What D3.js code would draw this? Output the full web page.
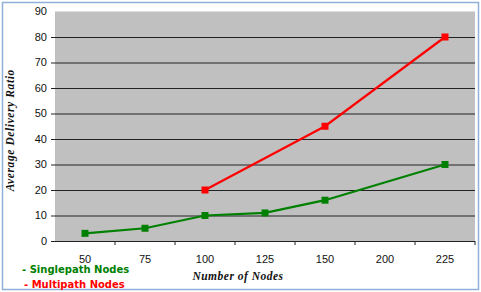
<!DOCTYPE html>
<html>
<head>
<meta charset="utf-8">
<script src="https://cdn.jsdelivr.net/npm/d3@7"></script>
<style>
  body { margin: 0; background: #fff; }
</style>
</head>
<body>
<div id="chart"></div>
<script>
const width = 481;
const height = 292;

// 数据
const nodes = ["50", "75", "100", "125", "150", "200", "225"];
const singlepath = [["50", 3], ["75", 5], ["100", 10], ["125", 11], ["150", 16], ["225", 30]];
const multipath = [["100", 20], ["150", 45], ["225", 80]];
const yTicks = [0, 10, 20, 30, 40, 50, 60, 70, 80, 90];

const margin = { left: 55, right: 6, top: 11.5, bottom: 51 };

const svg = d3.select("#chart")
  .append("svg")
  .attr("width", width)
  .attr("height", height);

// 外框
svg.append("rect")
  .attr("x", 2.5).attr("y", 2.5)
  .attr("width", width - 5).attr("height", height - 5)
  .attr("fill", "#fff")
  .attr("stroke", "#8fb0d8")
  .attr("stroke-width", 1.5);

const x = d3.scaleBand()
  .domain(nodes)
  .range([margin.left, width - margin.right]);

const y = d3.scaleLinear()
  .domain([0, 90])
  .range([height - margin.bottom, margin.top]);

// 绘图区
svg.append("rect")
  .attr("x", margin.left)
  .attr("y", y(90))
  .attr("width", width - margin.right - margin.left)
  .attr("height", y(0) - y(90))
  .attr("fill", "#c0c0c0");

// y 轴网格
svg.append("g")
  .attr("transform", `translate(${margin.left},0)`)
  .call(d3.axisLeft(y).tickValues(yTicks.slice(1, -1))
    .tickSize(-(width - margin.right - margin.left)).tickSizeOuter(0).tickFormat(""))
  .call(g => g.select(".domain").remove())
  .call(g => g.selectAll("line").attr("x1", -4).attr("stroke", "#222"));

// y 轴标签
svg.append("g")
  .selectAll("text")
  .data(yTicks)
  .enter()
  .append("text")
  .attr("x", 47)
  .attr("y", d => y(d))
  .attr("dy", "0.35em")
  .attr("text-anchor", "end")
  .attr("font-family", "Liberation Sans, Arial, sans-serif")
  .attr("font-size", 11)
  .attr("fill", "#111")
  .text(d => d);

// x 轴
svg.append("g")
  .attr("transform", `translate(0,${y(0)})`)
  .call(d3.axisBottom(x).tickSize(0).tickPadding(14))
  .call(g => g.select(".domain").attr("d", `M${margin.left - 4},0.5H${width - margin.right}`).attr("stroke", "#222"))
  .call(g => g.selectAll("text").attr("font-family", "Liberation Sans, Arial, sans-serif").attr("font-size", 11).attr("fill", "#111"));

svg.append("g")
  .selectAll("line")
  .data(nodes.slice(1).concat(["end"]))
  .enter()
  .append("line")
  .attr("x1", (d, i) => x(nodes[i]) + x.bandwidth())
  .attr("x2", (d, i) => x(nodes[i]) + x.bandwidth())
  .attr("y1", y(0))
  .attr("y2", y(0) + 4)
  .attr("stroke", "#222");

// 折线
const line = d3.line()
  .x(d => x(d[0]) + x.bandwidth() / 2)
  .y(d => y(d[1]));

const series = [
  { data: singlepath, color: "#008000" },
  { data: multipath, color: "#ff0000" }
];

series.forEach(s => {
  svg.append("path")
    .datum(s.data)
    .attr("fill", "none")
    .attr("stroke", s.color)
    .attr("stroke-width", 2.2)
    .attr("d", line);

  svg.selectAll(null)
    .data(s.data)
    .enter()
    .append("rect")
    .attr("x", d => x(d[0]) + x.bandwidth() / 2 - 3.5)
    .attr("y", d => y(d[1]) - 3.5)
    .attr("width", 7)
    .attr("height", 7)
    .attr("fill", s.color);
});

// 轴标题
svg.append("text")
  .attr("transform", `translate(14,${(y(0) + y(90)) / 2 + 4}) rotate(-90)`)
  .attr("text-anchor", "middle")
  .attr("font-family", "Liberation Serif, serif")
  .attr("font-style", "italic")
  .attr("font-weight", "bold")
  .attr("font-size", 11.5)
  .attr("letter-spacing", 0.6)
  .attr("fill", "#111")
  .text("Average Delivery Ratio");

svg.append("text")
  .attr("x", 238)
  .attr("y", 280)
  .attr("text-anchor", "middle")
  .attr("font-family", "Liberation Serif, serif")
  .attr("font-style", "italic")
  .attr("font-weight", "bold")
  .attr("font-size", 11.5)
  .attr("letter-spacing", 0.5)
  .attr("fill", "#111")
  .text("Number of Nodes");

// 图例
svg.append("text")
  .attr("x", 22).attr("y", 273)
  .attr("font-family", "DejaVu Sans, sans-serif")
  .attr("font-weight", "bold")
  .attr("font-size", 10)
  .attr("fill", "#008000")
  .text("- Singlepath Nodes");

svg.append("text")
  .attr("x", 24).attr("y", 288)
  .attr("font-family", "DejaVu Sans, sans-serif")
  .attr("font-weight", "bold")
  .attr("font-size", 10)
  .attr("fill", "#ff0000")
  .text("- Multipath Nodes");
</script>
</body>
</html>
